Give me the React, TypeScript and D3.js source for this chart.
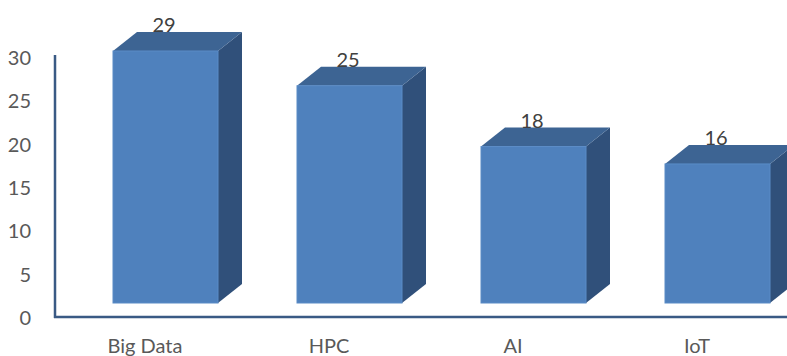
import React from "react";
import * as d3 from "d3";

const categories = ["Big Data", "HPC", "AI", "IoT"];
const values = [29, 25, 18, 16];
const yTicks = [0, 5, 10, 15, 20, 25, 30];

const W = 787;
const H = 356;

const FRONT = "#4f81bd";
const TOP = "#3d6493";
const SIDE = "#30507a";
const AXIS = "#3a5a84";
const TEXT = "#595959";
const FONT = "Lato, 'Open Sans', sans-serif";

export default function App() {
  // category centres along the floor
  const x = d3.scalePoint<string>().domain(categories).range([145, 697]);
  // axis scale on the back wall
  const yAxis = d3.scaleLinear().domain([0, 30]).range([317, 57]);
  // scale for the front faces of the 3D columns
  const yFront = d3.scaleLinear().domain([0, 30]).range([303, 42.3]);

  const barW = 105;
  const offsetX = -32; // front-left edge relative to category centre
  const depthX = 24;
  const depthY = -19;

  return (
    <svg
      width={W}
      height={H}
      style={{ position: "absolute", left: 0, top: 0, background: "#fff" }}
      fontFamily={FONT}
    >
      {/* axes */}
      <line x1={55} x2={55} y1={55} y2={318} stroke={AXIS} strokeWidth={2.5} />
      <line x1={54} x2={W} y1={317} y2={317} stroke={AXIS} strokeWidth={2.5} />

      {yTicks.map((t) => (
        <text
          key={t}
          x={31}
          y={yAxis(t)}
          textAnchor="end"
          dominantBaseline="central"
          fontSize={20}
          fill={TEXT}
        >
          {t}
        </text>
      ))}

      {categories.map((c, i) => {
        const v = values[i];
        const x0 = (x(c) as number) + offsetX;
        const x1 = x0 + barW;
        const yb = yFront(0);
        const yt = yFront(v);
        const top = [
          [x0, yt],
          [x0 + depthX, yt + depthY],
          [x1 + depthX, yt + depthY],
          [x1, yt],
        ];
        const side = [
          [x1, yt],
          [x1 + depthX, yt + depthY],
          [x1 + depthX, yb + depthY],
          [x1, yb],
        ];
        const pts = (p: number[][]) => p.map((q) => q.join(",")).join(" ");
        return (
          <g key={c}>
            <polygon points={pts(side)} fill={SIDE} />
            <polygon points={pts(top)} fill={TOP} />
            <rect
              x={x0}
              y={yt}
              width={barW}
              height={yb - yt}
              fill={FRONT}
              stroke="#5a8bc6"
              strokeWidth={1}
            />
            <text
              x={x0 + 51}
              y={yt + depthY}
              textAnchor="middle"
              fontSize={20}
              fill="#404040"
            >
              {v}
            </text>
            <text
              x={x(c) as number}
              y={353}
              textAnchor="middle"
              fontSize={20}
              fill={TEXT}
            >
              {c}
            </text>
          </g>
        );
      })}
    </svg>
  );
}
